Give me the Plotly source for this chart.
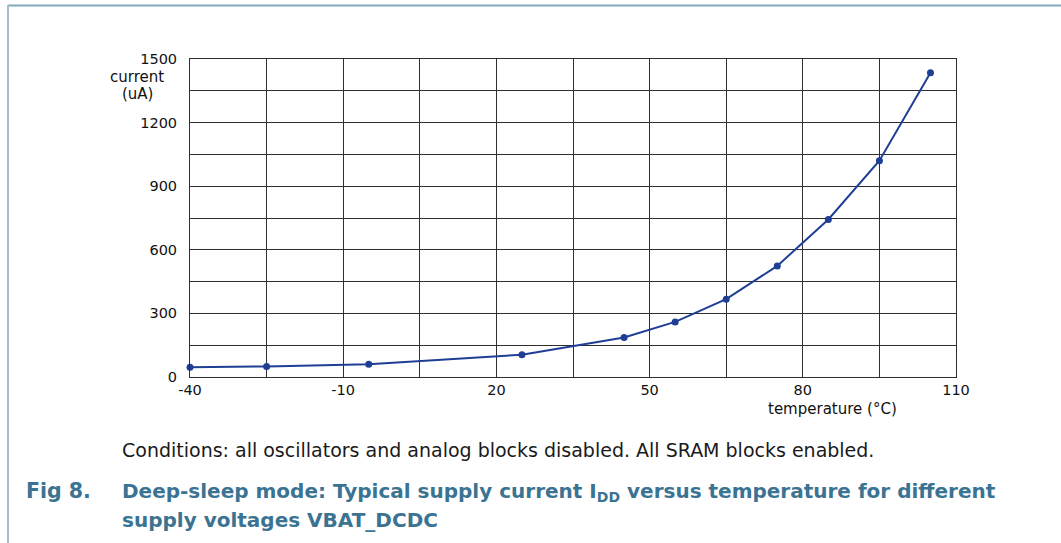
import plotly.graph_objects as go

# Data
temperature_c = [-40, -25, -5, 25, 45, 55, 65, 75, 85, 95, 105]
current_ua = [46, 50, 60, 105, 186, 260, 367, 524, 743, 1020, 1435]

x_tick_vals = [-40, -10, 20, 50, 80, 110]
y_tick_vals = [0, 300, 600, 900, 1200, 1500]

W, H = 1061, 543
PL, PR, PT, PB = 190, 956, 59, 377  # plot area pixel box


def px(x):
    return (x - PL) / (PR - PL)


def py(y):
    return (PB - y) / (PB - PT)


LINE = "#1e3f95"
GRID = "#2e2e2e"
FRAME = "#86a9c2"
CAP = "#3b7393"
FONT = "DejaVu Sans, Liberation Sans, sans-serif"

fig = go.Figure()
fig.add_trace(go.Scatter(
    x=temperature_c, y=current_ua, mode="lines+markers",
    line=dict(color=LINE, width=2),
    marker=dict(color=LINE, size=7),
    showlegend=False, cliponaxis=False,
))

axis_common = dict(
    showline=True, mirror=True, linecolor=GRID, linewidth=1,
    showgrid=True, gridcolor=GRID, gridwidth=1,
    zeroline=False, ticks="",
    tickfont=dict(family=FONT, size=14.5, color="#111"),
)

fig.update_xaxes(
    range=[-40, 110], tickmode="array", tickvals=x_tick_vals,
    ticktext=[str(v) for v in x_tick_vals],
    minor=dict(dtick=15, tick0=-40, showgrid=True, gridcolor=GRID, gridwidth=1),
    ticklabelstandoff=0,
    **axis_common,
)
fig.update_yaxes(
    range=[0, 1500], tickmode="array", tickvals=y_tick_vals,
    ticktext=[str(v) for v in y_tick_vals],
    minor=dict(dtick=150, tick0=0, showgrid=True, gridcolor=GRID, gridwidth=1),
    ticklabelstandoff=9,
    **axis_common,
)

annotations = [
    dict(text="current", x=px(137), y=py(77)),
    dict(text="(uA)", x=px(137), y=py(94)),
    dict(text="temperature (°C)", x=px(832), y=py(409)),
]
anns = []
for a in annotations:
    anns.append(dict(
        text=a["text"], x=a["x"], y=a["y"], xref="paper", yref="paper",
        showarrow=False, xanchor="center", yanchor="middle",
        font=dict(family=FONT, size=15, color="#111"),
    ))

anns.append(dict(
    text="Conditions: all oscillators and analog blocks disabled. All SRAM blocks enabled.",
    x=px(120), y=py(450), xref="paper", yref="paper", showarrow=False,
    xanchor="left", yanchor="middle",
    font=dict(family=FONT, size=19, color="#1a1a1a"),
))
anns.append(dict(
    text="<b>Fig 8.</b>", x=px(24), y=py(491), xref="paper", yref="paper",
    showarrow=False, xanchor="left", yanchor="middle",
    font=dict(family=FONT, size=20.5, color=CAP),
))
anns.append(dict(
    text="<b>Deep-sleep mode: Typical supply current I<sub>DD</sub> versus temperature for different</b>",
    x=px(120), y=py(492), xref="paper", yref="paper",
    showarrow=False, xanchor="left", yanchor="middle",
    font=dict(family=FONT, size=20, color=CAP),
))
anns.append(dict(
    text="<b>supply voltages VBAT_DCDC</b>", x=px(120), y=py(520),
    xref="paper", yref="paper", showarrow=False, xanchor="left", yanchor="middle",
    font=dict(family=FONT, size=20, color=CAP),
))

shapes = [
    dict(type="line", xref="paper", yref="paper", x0=px(8), x1=px(W), y0=py(5.5), y1=py(5.5),
         line=dict(color=FRAME, width=2)),
    dict(type="line", xref="paper", yref="paper", x0=px(8), x1=px(8), y0=py(5), y1=py(H),
         line=dict(color="#a3bdd0", width=2)),
]

fig.update_layout(
    width=W, height=H, autosize=False,
    margin=dict(l=PL, r=W - PR, t=PT, b=H - PB, pad=0),
    paper_bgcolor="white", plot_bgcolor="white",
    annotations=anns, shapes=shapes,
    font=dict(family=FONT),
)

fig.write_html("out.html", config={"displayModeBar": False},
               post_script="document.body.style.margin='0';document.body.style.overflow='hidden';")
